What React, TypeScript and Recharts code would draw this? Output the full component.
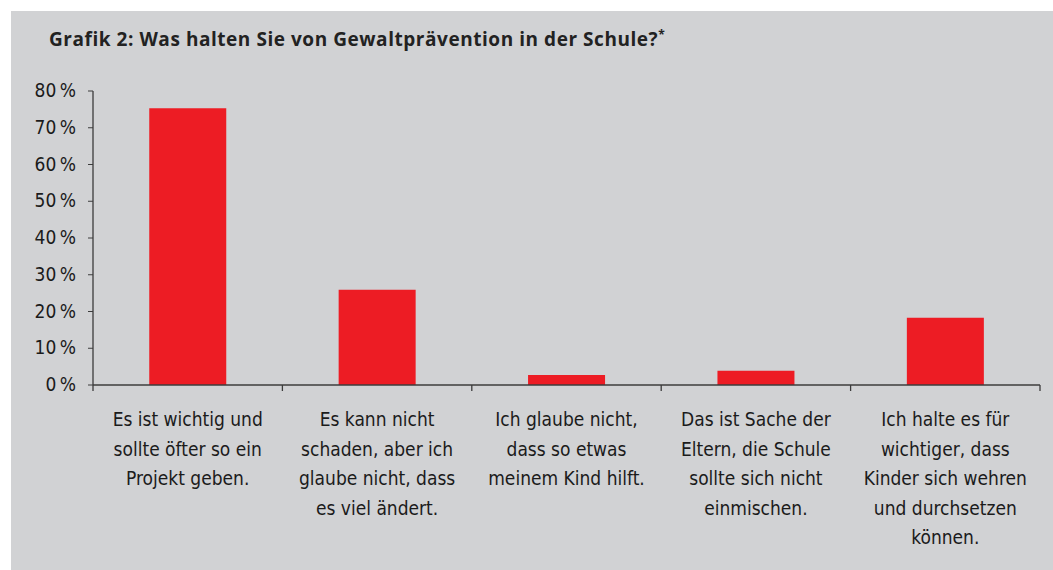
import React from 'react'
import { BarChart, Bar, XAxis, YAxis } from 'recharts'

const categories = [
  'Es ist wichtig und\nsollte öfter so ein\nProjekt geben.',
  'Es kann nicht\nschaden, aber ich\nglaube nicht, dass\nes viel ändert.',
  'Ich glaube nicht,\ndass so etwas\nmeinem Kind hilft.',
  'Das ist Sache der\nEltern, die Schule\nsollte sich nicht\neinmischen.',
  'Ich halte es für\nwichtiger, dass\nKinder sich wehren\nund durchsetzen\nkönnen.',
]
const values = [75.3, 25.9, 2.7, 3.9, 18.3]
const yTicks = [0, 10, 20, 30, 40, 50, 60, 70, 80]

const data = categories.map((category, i) => ({ category, value: values[i] }))

const PANEL = '#d1d2d4'
const RED = '#ed1c24'
const AXIS = '#3c3c3c'
const TEXT = '#1b1b1b'
const LABEL_FONT = '"Liberation Sans Narrow", "DejaVu Sans Condensed", sans-serif'

// eslint-disable-next-line @typescript-eslint/no-explicit-any
const CategoryTick = (props: any) => {
  const { x, y, payload, index, visibleTicksCount } = props
  const half = payload.offset ?? 0
  const lines = String(payload.value).split('\n')
  return (
    <g>
      <line x1={x - half} y1={y - 8} x2={x - half} y2={y - 2} stroke={AXIS} strokeWidth={1.3} />
      {index === visibleTicksCount - 1 && (
        <line x1={x + half} y1={y - 8} x2={x + half} y2={y - 2} stroke={AXIS} strokeWidth={1.3} />
      )}
      <text
        x={x}
        y={y + 33}
        textAnchor="middle"
        fill={TEXT}
        style={{ fontFamily: LABEL_FONT, fontSize: 19 }}
      >
        {lines.map((line, i) => (
          <tspan key={i} x={x} dy={i === 0 ? 0 : 29.6}>
            {line}
          </tspan>
        ))}
      </text>
    </g>
  )
}

// eslint-disable-next-line @typescript-eslint/no-explicit-any
const PercentTick = (props: any) => {
  const { x, y, payload } = props
  return (
    <text
      x={x - 10}
      y={y + 6}
      textAnchor="end"
      fill={TEXT}
      style={{ fontFamily: LABEL_FONT, fontSize: 19 }}
    >
      {`${payload.value}\u2009%`}
    </text>
  )
}

export default function App() {
  return (
    <div style={{ width: 1053, height: 570, background: '#fff', position: 'relative', overflow: 'hidden' }}>
      <style>{'body{margin:0}'}</style>
      <div
        style={{
          position: 'absolute',
          left: 11,
          top: 11,
          width: 1042,
          height: 559,
          background: PANEL,
        }}
      >
        <div
          style={{
            position: 'absolute',
            left: 38,
            top: 15,
            fontFamily: '"Open Sans", "Noto Sans", sans-serif',
            fontWeight: 700,
            fontSize: 19,
            letterSpacing: 0.55,
            color: '#222',
            whiteSpace: 'nowrap',
          }}
        >
          Grafik 2: Was halten Sie von Gewaltprävention in der Schule?
          <sup style={{ fontSize: 12 }}>*</sup>
        </div>
        <BarChart
          width={1042}
          height={559}
          data={data}
          margin={{ top: 80, right: 13, bottom: 0, left: 0 }}
          barCategoryGap="29.7%"
          style={{ position: 'absolute', left: 0, top: 0 }}
        >
          <XAxis
            dataKey="category"
            interval={0}
            height={185}
            axisLine={{ stroke: AXIS, strokeWidth: 1.5 }}
            tickLine={false}
            tick={<CategoryTick />}
          />
          <YAxis
            type="number"
            domain={[0, 80]}
            ticks={yTicks}
            width={82}
            axisLine={{ stroke: AXIS, strokeWidth: 1.3 }}
            tickLine={{ stroke: AXIS, strokeWidth: 1 }}
            tickSize={5}
            tick={<PercentTick />}
          />
          <Bar dataKey="value" fill={RED} isAnimationActive={false} />
        </BarChart>
      </div>
    </div>
  )
}
